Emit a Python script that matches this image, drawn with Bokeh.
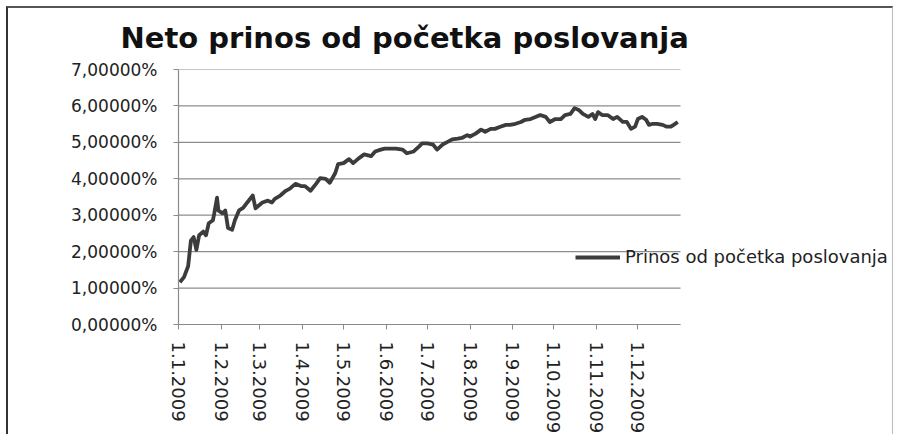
import pandas as pd
from bokeh.plotting import figure
from bokeh.models import FixedTicker, Legend, LegendItem, ColumnDataSource, Title
from bokeh.embed import file_html
from bokeh.resources import INLINE

title_text = "Neto prinos od početka poslovanja"
series_name = "Prinos od početka poslovanja"

dates = [
    "2009-01-02", "2009-01-05", "2009-01-08", "2009-01-10", "2009-01-12", "2009-01-14",
    "2009-01-16", "2009-01-19", "2009-01-21", "2009-01-23", "2009-01-26", "2009-01-27",
    "2009-01-29", "2009-01-30", "2009-02-02", "2009-02-04", "2009-02-06", "2009-02-09",
    "2009-02-11", "2009-02-14", "2009-02-17", "2009-02-20", "2009-02-24", "2009-02-26",
    "2009-03-03", "2009-03-07", "2009-03-10", "2009-03-12", "2009-03-16", "2009-03-20",
    "2009-03-23", "2009-03-27", "2009-03-31", "2009-04-03", "2009-04-07", "2009-04-11",
    "2009-04-14", "2009-04-18", "2009-04-21", "2009-04-25", "2009-04-27", "2009-05-01",
    "2009-05-05", "2009-05-08", "2009-05-12", "2009-05-16", "2009-05-21", "2009-05-24",
    "2009-05-28", "2009-05-31", "2009-06-04", "2009-06-08", "2009-06-13", "2009-06-16",
    "2009-06-21", "2009-06-25", "2009-06-27", "2009-07-01", "2009-07-05", "2009-07-08",
    "2009-07-12", "2009-07-16", "2009-07-19", "2009-07-23", "2009-07-26", "2009-07-30",
    "2009-08-01", "2009-08-05", "2009-08-09", "2009-08-12", "2009-08-16", "2009-08-19",
    "2009-08-23", "2009-08-27", "2009-08-30", "2009-09-03", "2009-09-07", "2009-09-10",
    "2009-09-14", "2009-09-18", "2009-09-21", "2009-09-25", "2009-09-28", "2009-10-02",
    "2009-10-06", "2009-10-09", "2009-10-13", "2009-10-16", "2009-10-19", "2009-10-22",
    "2009-10-26", "2009-10-29", "2009-10-31", "2009-11-02", "2009-11-05", "2009-11-09",
    "2009-11-13", "2009-11-16", "2009-11-20", "2009-11-23", "2009-11-26", "2009-11-29",
    "2009-12-01", "2009-12-04", "2009-12-07", "2009-12-09", "2009-12-12", "2009-12-15",
    "2009-12-19", "2009-12-22", "2009-12-25", "2009-12-27", "2009-12-30",
]
returns_pct = [
    1.16, 1.30, 1.60, 2.30, 2.40, 2.05,
    2.45, 2.55, 2.45, 2.78, 2.86, 3.05,
    3.48, 3.13, 3.05, 3.13, 2.65, 2.60,
    2.86, 3.13, 3.20, 3.35, 3.54, 3.19,
    3.35, 3.40, 3.35, 3.45, 3.54, 3.67,
    3.73, 3.86, 3.80, 3.80, 3.67, 3.86,
    4.02, 4.00, 3.89, 4.16, 4.40, 4.43,
    4.54, 4.43, 4.56, 4.67, 4.62, 4.75,
    4.80, 4.83, 4.83, 4.83, 4.80, 4.70,
    4.75, 4.89, 4.97, 4.97, 4.94, 4.80,
    4.94, 5.02, 5.08, 5.10, 5.12, 5.20,
    5.16, 5.24, 5.35, 5.29, 5.37, 5.37,
    5.43, 5.48, 5.48, 5.51, 5.56, 5.62,
    5.64, 5.70, 5.75, 5.70, 5.56, 5.64,
    5.64, 5.75, 5.78, 5.94, 5.89, 5.78,
    5.70, 5.78, 5.64, 5.83, 5.75, 5.75,
    5.64, 5.70, 5.56, 5.56, 5.37, 5.43,
    5.64, 5.70, 5.62, 5.48, 5.51, 5.51,
    5.48, 5.43, 5.43, 5.48, 5.56,
]

month_starts = ["2009-01-01", "2009-02-01", "2009-03-01", "2009-04-01", "2009-05-01", "2009-06-01",
                "2009-07-01", "2009-08-01", "2009-09-01", "2009-10-01", "2009-11-01", "2009-12-01"]
x_tick_labels = ["1.1.2009", "1.2.2009", "1.3.2009", "1.4.2009", "1.5.2009", "1.6.2009",
                 "1.7.2009", "1.8.2009", "1.9.2009", "1.10.2009", "1.11.2009", "1.12.2009"]
y_ticks = [0, 1, 2, 3, 4, 5, 6, 7]
y_tick_labels = ["0,00000%", "1,00000%", "2,00000%", "3,00000%", "4,00000%", "5,00000%",
                 "6,00000%", "7,00000%"]

start = pd.Timestamp("2009-01-01")
end = pd.Timestamp("2010-01-01")
n_days = (end - start).days
day_idx = [(pd.Timestamp(d) - start).days for d in dates]
tick_pos = [(pd.Timestamp(d) - start).days for d in month_starts]

FONT = "DejaVu Sans"

# layout (pixels)
W, H = 887, 428
BL, BR, BT, BB = 170, 0, 58, 110
AXIS_PX = 502                       # pixel length of one year on the x axis
frame_w = W - BL - BR
x_end = n_days * frame_w / AXIS_PX  # frame extends right so the legend fits

p = figure(width=W, height=H, output_backend="svg", toolbar_location=None,
           x_range=(0, x_end), y_range=(0, 7),
           min_border_left=BL, min_border_right=BR, min_border_top=BT, min_border_bottom=BB,
           background_fill_color="white", border_fill_color="white")
p.styles = {"margin-left": "6px", "margin-top": "6px",
            "border-left": "2px solid #333", "border-top": "2px solid #555",
            "border-right": "1px solid #bbb"}
p.outline_line_color = None

t = Title(text=title_text, text_font=FONT, text_font_size="29px", text_font_style="bold",
          text_color="#111", align="left", offset=-58, vertical_align="top", standoff=25)
p.add_layout(t, "above")

# horizontal gridlines limited to the year span
p.xgrid.grid_line_color = None
p.ygrid.grid_line_color = None
p.segment(x0=[0] * len(y_ticks), x1=[n_days] * len(y_ticks), y0=y_ticks, y1=y_ticks,
          line_color="#8c8c8c", line_width=1.2)

src = ColumnDataSource(dict(x=day_idx, y=returns_pct))
r = p.line("x", "y", source=src, line_color="#3c3c3c", line_width=3.8, line_join="round")

# axes
p.yaxis.ticker = FixedTicker(ticks=y_ticks)
p.yaxis.major_label_overrides = {t_: l for t_, l in zip(y_ticks, y_tick_labels)}
p.xaxis.ticker = FixedTicker(ticks=tick_pos)
p.xaxis.major_label_overrides = {t_: l for t_, l in zip(tick_pos, x_tick_labels)}
p.xaxis.major_label_orientation = "vertical"
p.xaxis.bounds = (0, n_days)
for ax in (p.xaxis, p.yaxis):
    ax.major_label_text_font = FONT
    ax.major_label_text_color = "#222"
    ax.axis_line_color = "#8a8a8a"
    ax.axis_line_width = 1.2
    ax.major_tick_line_color = "#8a8a8a"
    ax.major_tick_in = 0
    ax.major_tick_out = 5
    ax.minor_tick_line_color = None
p.yaxis.major_label_text_font_size = "17px"
p.xaxis.major_label_text_font_size = "18px"
p.yaxis.major_label_standoff = 16
p.xaxis.major_label_standoff = 12

legend = Legend(items=[LegendItem(label=series_name, renderers=[r])],
                location=(397, 57), orientation="vertical",
                label_text_font=FONT, label_text_font_size="18px", label_text_color="#222",
                glyph_width=45, glyph_height=20, label_standoff=5,
                padding=0, margin=0, border_line_color=None, background_fill_alpha=0)
p.add_layout(legend, "center")

open("out.html", "w").write(file_html(p, INLINE))
